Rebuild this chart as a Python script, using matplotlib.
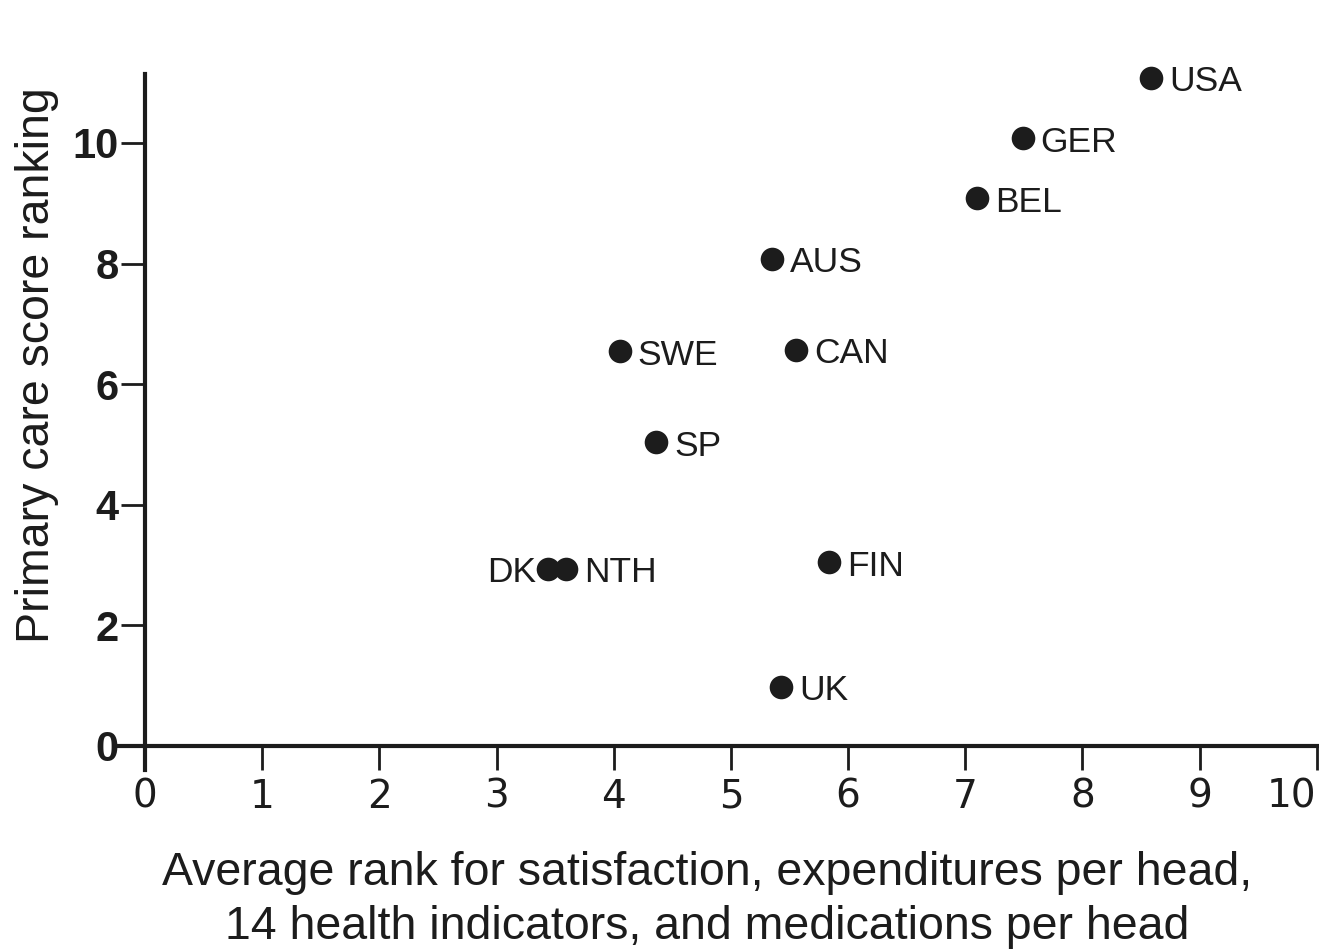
import matplotlib
matplotlib.use("Agg")
import matplotlib.pyplot as plt
import matplotlib.transforms as mt

countries = ["USA", "GER", "BEL", "AUS", "SWE", "CAN", "SP", "DK", "NTH", "FIN", "UK"]
avg_rank = [8.59, 7.49, 7.10, 5.35, 4.05, 5.56, 4.36, 3.44, 3.59, 5.84, 5.43]
pc_score = [11.08, 10.08, 9.08, 8.08, 6.55, 6.57, 5.04, 2.94, 2.94, 3.05, 0.98]
label_side = ["right"] * 7 + ["left"] + ["right"] * 3
xticks = list(range(0, 11))
yticks = [0, 2, 4, 6, 8, 10]
ylabel = "Primary care score ranking"
xlabel = "Average rank for satisfaction, expenditures per head,\n14 health indicators, and medications per head"

ink = "#1c1c1c"
fig = plt.figure(figsize=(13.19, 9.51), dpi=100)
ax = fig.add_axes([117/1319, 0.1903, 1202/1319, 0.7323])
ax.set_xlim(-0.24, 10.02)
ax.set_ylim(-0.4, 11.15)

ax.scatter(avg_rank, pc_score, s=17**2, color=ink, zorder=3, linewidths=0, clip_on=False)

for name, x, y, side in zip(countries, avg_rank, pc_score, label_side):
    if side == "right":
        off = mt.offset_copy(ax.transData, fig=fig, x=13, y=-3, units="points")
        ax.text(x, y, name, transform=off, ha="left", va="center",
                fontsize=25.5, family="Liberation Sans", color=ink)
    else:
        off = mt.offset_copy(ax.transData, fig=fig, x=-9, y=-3, units="points")
        ax.text(x, y, name, transform=off, ha="right", va="center",
                fontsize=25.5, family="Liberation Sans", color=ink)

for s in ["top", "right"]:
    ax.spines[s].set_visible(False)
for s in ["left", "bottom"]:
    ax.spines[s].set_position(("data", 0))
    ax.spines[s].set_linewidth(3)
    ax.spines[s].set_color(ink)

ax.set_xticks(xticks)
ax.set_yticks(yticks)
ax.tick_params(axis="both", direction="out", length=17, width=2, color=ink)
ax.tick_params(axis="x", pad=6)
ax.tick_params(axis="y", pad=2)
ax.set_xticklabels([str(t) for t in xticks], fontsize=28, family="DejaVu Sans", color=ink)
ax.set_yticklabels([str(t) for t in yticks], fontsize=30, family="Liberation Sans",
                   fontweight="bold", color=ink)
ax.get_xticklabels()[-1].set_ha("right")

ax.set_ylabel(ylabel, fontsize=33.5, family="Liberation Sans", color=ink, va="center")
ax.yaxis.set_label_coords(-0.0666, 0.5816)

fig.text(707/1319, 0.0536, xlabel, ha="center", va="center", fontsize=33.5,
         family="Liberation Sans", color=ink, linespacing=1.3)

fig.savefig("out.png", dpi=100, facecolor="white")
